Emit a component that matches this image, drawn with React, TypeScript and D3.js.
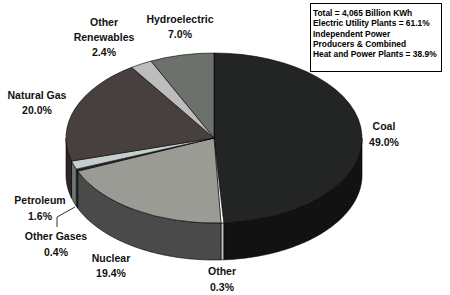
import React from "react";
import * as d3 from "d3";

const categories = ["Coal", "Other", "Nuclear", "Other Gases", "Petroleum", "Natural Gas", "Other Renewables", "Hydroelectric"];
const shares = [49.0, 0.3, 19.4, 0.4, 1.6, 20.0, 2.4, 7.0];
const labelLines = [["Coal"], ["Other"], ["Nuclear"], ["Other Gases"], ["Petroleum"], ["Natural Gas"], ["Other", "Renewables"], ["Hydroelectric"]];
const noteLines = [
  "Total = 4,065 Billion KWh",
  "Electric Utility Plants = 61.1%",
  "Independent Power",
  "Producers & Combined",
  "Heat and Power Plants = 38.9%",
];

// styling / layout
const topColors = ["#232524", "#ffffff", "#9a9b94", "#2a2a2a", "#c6cdcd", "#48403f", "#bdbdbd", "#6c716b"];
const sideColors = ["#121212", "#c2c2c2", "#4a4a4a", "#1e1e1e", "#6e7373", "#2c2726", "#8a8a8a", "#454944"];
const labelPos: [number, number][] = [
  [384, 126.5], [222, 271.5], [111, 258], [56, 236.5], [40, 200.5], [37, 95], [104, 22], [180, 19],
];

const W = 450, H = 295;
const cx = 214, cy = 138, rx = 148, ry = 85, depth = 37;

function pt(a: number, dy = 0): [number, number] {
  return [cx + rx * Math.sin(a), cy - ry * Math.cos(a) + dy];
}

function sidePath(a0: number, a1: number): string {
  const n = Math.max(2, Math.ceil(((a1 - a0) * 180) / Math.PI));
  const top: [number, number][] = [];
  for (let i = 0; i <= n; i++) top.push(pt(a0 + ((a1 - a0) * i) / n));
  const bot = top.map(([x, y]) => [x, y + depth] as [number, number]).reverse();
  const line = d3.line();
  return line([...top, ...bot]) + "Z";
}

export default function App() {
  const pie = d3.pie<number>().sort(null).value((d) => d).startAngle(0).endAngle(2 * Math.PI);
  const arcs = pie(shares);
  const arc = d3.arc<d3.PieArcDatum<number>>().innerRadius(0).outerRadius(rx);
  const fmt = d3.format(".1f");
  const font = "'Liberation Sans', Arial, sans-serif";

  return (
    <svg width={W} height={H} style={{ position: "absolute", left: 0, top: 0, background: "#fff" }}>
      {/* sides */}
      {arcs.map((a, i) => {
        const s = Math.max(a.startAngle, Math.PI / 2);
        const e = Math.min(a.endAngle, (3 * Math.PI) / 2);
        if (e <= s) return null;
        return <path key={"s" + i} d={sidePath(s, e)} fill={sideColors[i]} stroke="#000" strokeWidth={0.6} strokeLinejoin="round" />;
      })}
      {/* tops */}
      <g transform={`translate(${cx},${cy}) scale(1,${ry / rx})`}>
        {arcs.map((a, i) => (
          <path key={"t" + i} d={arc(a) || ""} fill={topColors[i]} stroke="#000" strokeWidth={0.6} vectorEffect="non-scaling-stroke" strokeLinejoin="round" />
        ))}
      </g>
      {/* labels */}
      {categories.map((c, i) => {
        const lines = [...labelLines[i], fmt(shares[i]) + "%"];
        const [lx, ly] = labelPos[i];
        return (
          <text key={"l" + i} x={lx} y={ly + 3.8} textAnchor="middle" fontFamily={font} fontWeight="bold" fontSize={10.5} fill="#111">
            {lines.map((t, j) => (
              <tspan key={j} x={lx} dy={j === 0 ? 0 : 15.3}>{t}</tspan>
            ))}
          </text>
        );
      })}
      {/* leader line for Other Gases */}
      <polyline points="57,227 57,217 75,207" fill="none" stroke="#000" strokeWidth={0.8} />
      {/* note box */}
      <rect x={310.5} y={3.5} width={131} height={68} fill="#fff" stroke="#000" strokeWidth={1} />
      <text fontFamily={font} fontWeight="bold" fontSize={8.4} fill="#000">
        {noteLines.map((t, j) => (
          <tspan key={j} x={313} y={15.7 + j * 10.4}>{t}</tspan>
        ))}
      </text>
    </svg>
  );
}
